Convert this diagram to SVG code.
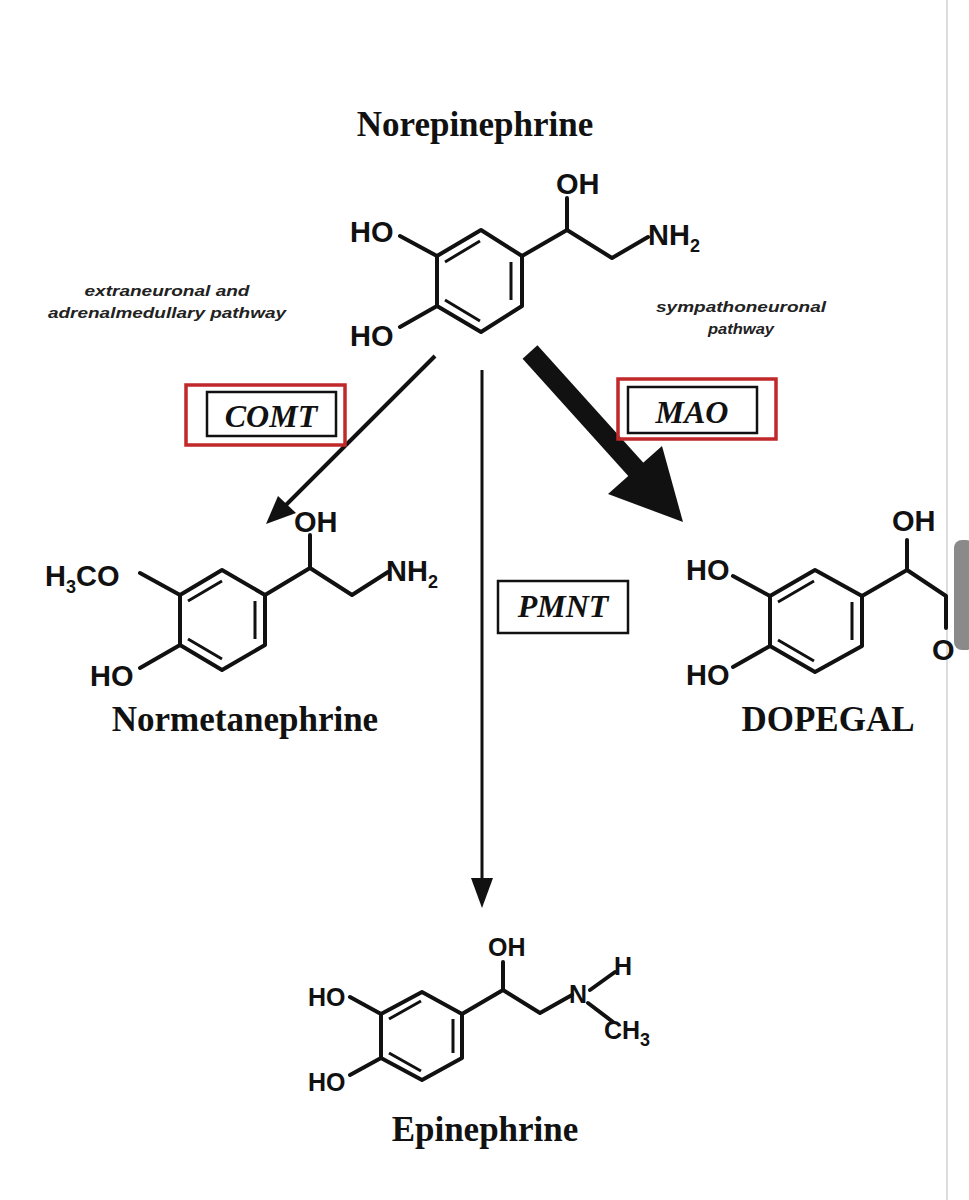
<svg xmlns="http://www.w3.org/2000/svg" width="969" height="1200" viewBox="0 0 969 1200">
<style>
.b{stroke:#111;stroke-width:4;fill:none;stroke-linejoin:round;stroke-linecap:round}
.d{stroke:#111;stroke-width:3;fill:none}
.a{font-family:"Liberation Sans",Arial,sans-serif;font-weight:bold;font-size:29px;fill:#111}
.ae{font-size:25px}
.s{font-size:18px}
.t{font-family:"Liberation Serif","Times New Roman",serif;font-weight:bold;font-size:35px;fill:#111;text-anchor:middle}
.e{font-family:"Liberation Serif","Times New Roman",serif;font-weight:bold;font-style:italic;font-size:32px;fill:#111;text-anchor:middle}
.p{font-family:"Liberation Sans",Arial,sans-serif;font-weight:bold;font-style:italic;font-size:15px;fill:#222;text-anchor:middle}
.rb{fill:none;stroke:#c0282a;stroke-width:3.5}
.ib{fill:none;stroke:#111;stroke-width:2.5}
</style>
<rect width="969" height="1200" fill="#fff"/>
<line x1="947" y1="0" x2="947" y2="1200" stroke="#ddd" stroke-width="2"/>

<g id="norepinephrine">
<text class="t" x="475" y="136">Norepinephrine</text>
<path class="b" d="M481,230 L522,256 L522,306 L481,332 L437,306 L437,256 Z"/>
<path class="d" d="M445,262 L480,241 M511,262 L511,300 M445,300 L480,321"/>
<path class="b" d="M437,256 L400,236 M437,306 L400,327 M522,256 L567,230 L567,198 M567,230 L612,258 L648,237"/>
<text class="a" x="350" y="242">HO</text>
<text class="a" x="350" y="346">HO</text>
<text class="a" x="556" y="194">OH</text>
<text class="a" x="648" y="245">NH<tspan class="s" dy="7">2</tspan></text>
</g>

<g id="labels">
<text class="p" x="167" y="296" textLength="165" lengthAdjust="spacingAndGlyphs">extraneuronal and</text>
<text class="p" x="167" y="318" textLength="238" lengthAdjust="spacingAndGlyphs">adrenalmedullary pathway</text>
<text class="p" x="741" y="312" textLength="170" lengthAdjust="spacingAndGlyphs">sympathoneuronal</text>
<text class="p" x="741" y="334" textLength="66" lengthAdjust="spacingAndGlyphs">pathway</text>
</g>

<g id="connectors">
<line x1="435" y1="356" x2="282" y2="509" stroke="#111" stroke-width="4"/>
<polygon points="266,524 278,496 296,513" fill="#111"/>
<line x1="482" y1="370" x2="482" y2="880" stroke="#111" stroke-width="3"/>
<polygon points="471,878 493,878 482,908" fill="#111"/>
<line x1="530" y1="352" x2="640" y2="474" stroke="#111" stroke-width="20"/>
<polygon points="683,522 608,494 662,446" fill="#111"/>
</g>

<g id="comt">
<rect class="rb" x="186" y="385" width="159" height="60"/>
<rect class="ib" x="207" y="392" width="129" height="44"/>
<text class="e" x="271" y="427">COMT</text>
</g>
<g id="mao">
<rect class="rb" x="618" y="379" width="158" height="60"/>
<rect class="ib" x="628" y="387" width="129" height="46"/>
<text class="e" x="692" y="423">MAO</text>
</g>
<g id="pmnt">
<rect class="ib" x="498" y="581" width="130" height="52"/>
<text class="e" x="563" y="617">PMNT</text>
</g>

<g id="normetanephrine">
<path class="b" d="M222,570 L265,595 L265,645 L222,670 L180,645 L180,595 Z"/>
<path class="d" d="M188,601 L222,581 M255,601 L255,639 M188,639 L222,659"/>
<path class="b" d="M180,595 L140,573 M180,645 L140,668 M265,595 L310,568 L310,535 M310,568 L352,595 L388,572"/>
<text class="a" x="45" y="586">H<tspan class="s" dy="7">3</tspan><tspan dy="-7">CO</tspan></text>
<text class="a" x="90" y="686">HO</text>
<text class="a" x="294" y="532">OH</text>
<text class="a" x="386" y="581">NH<tspan class="s" dy="7">2</tspan></text>
<text class="t" x="245" y="731">Normetanephrine</text>
</g>

<g id="dopegal">
<path class="b" d="M815,570 L862,596 L862,646 L815,672 L770,646 L770,596 Z"/>
<path class="d" d="M778,602 L814,581 M852,602 L852,640 M778,640 L814,661"/>
<path class="b" d="M770,596 L733,576 M770,646 L733,667 M862,596 L907,570 L907,540 M907,570 L946,596 L946,628"/>
<text class="a" x="686" y="580">HO</text>
<text class="a" x="686" y="685">HO</text>
<text class="a" x="892" y="531">OH</text>
<text class="a" x="932" y="660">O</text>
<text class="t" x="828" y="731">DOPEGAL</text>
</g>

<rect x="954" y="540" width="20" height="110" rx="8" fill="#8a8a8a"/>

<g id="epinephrine">
<path class="b" d="M422,992 L462,1014 L462,1058 L422,1080 L381,1058 L381,1014 Z"/>
<path class="d" d="M389,1019 L421,1001 M453,1019 L453,1053 M389,1053 L421,1071"/>
<path class="b" d="M381,1014 L350,997 M381,1058 L350,1075 M462,1014 L503,990 L503,962 M503,990 L540,1013 L572,995 M590,990 L615,972 M588,1003 L613,1022"/>
<text class="a ae" x="308" y="1006">HO</text>
<text class="a ae" x="308" y="1091">HO</text>
<text class="a ae" x="488" y="956">OH</text>
<text class="a ae" x="569" y="1003">N</text>
<text class="a ae" x="614" y="975">H</text>
<text class="a ae" x="604" y="1039">CH<tspan class="s" dy="7">3</tspan></text>
<text class="t" x="485" y="1141">Epinephrine</text>
</g>
</svg>
